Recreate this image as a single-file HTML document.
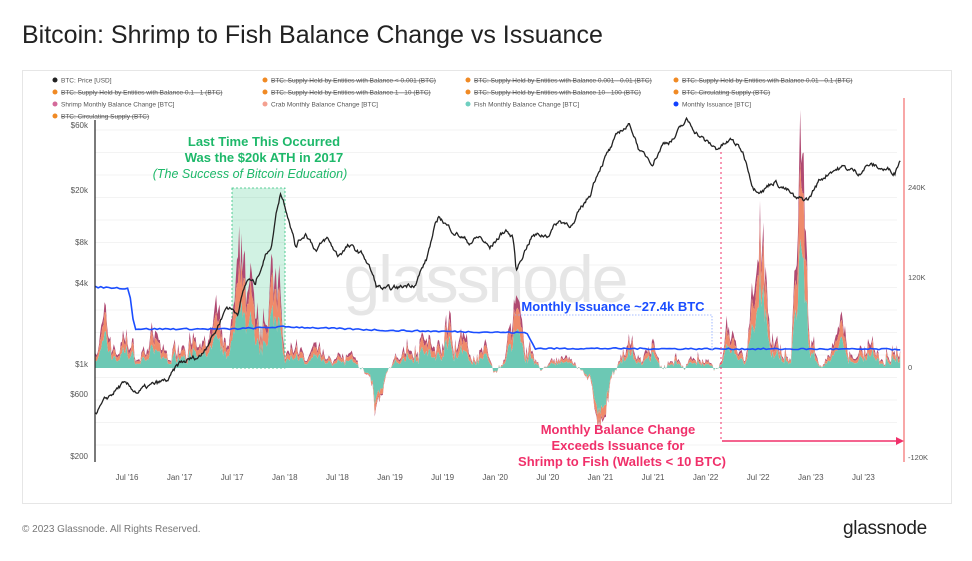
<!DOCTYPE html>
<html><head><meta charset="utf-8">
<style>
html,body{margin:0;padding:0;background:#fff;}
body{width:972px;height:561px;overflow:hidden;position:relative;font-family:"Liberation Sans",sans-serif;}
.t{position:absolute;}
</style></head>
<body>
<div class="t" style="left:22px;top:21px;font-size:25px;color:#222;">Bitcoin: Shrimp to Fish Balance Change vs Issuance</div>
<div style="position:absolute;left:22px;top:70px;width:928px;height:432px;border:1px solid #e6e6e6;"></div>
<div class="t" style="left:22px;top:524px;font-size:10px;color:#777;">© 2023 Glassnode. All Rights Reserved.</div>
<div class="t" style="left:843px;top:518px;font-size:19px;color:#222;letter-spacing:-0.3px;">glassnode</div>
<svg id="s" width="972" height="561" style="position:absolute;left:0;top:0" font-family="Liberation Sans, sans-serif">
</svg>
<script>
const s=document.getElementById('s');let h='';
const X=t=>127+(t-2016.5)*105.2;
const YP=p=>364-(Math.log10(p)-3)*134.4;
const Z=368, YB=k=>Z-k*0.75;
const leg=[[55,80,'#222','BTC: Price [USD]',0],[265,80,'#f08a24','BTC: Supply Held by Entities with Balance < 0.001 (BTC)',1],[468,80,'#f08a24','BTC: Supply Held by Entities with Balance 0.001 - 0.01 (BTC)',1],[676,80,'#f08a24','BTC: Supply Held by Entities with Balance 0.01 - 0.1 (BTC)',1],
[55,92,'#f08a24','BTC: Supply Held by Entities with Balance 0.1 - 1 (BTC)',1],[265,92,'#f08a24','BTC: Supply Held by Entities with Balance 1 - 10 (BTC)',1],[468,92,'#f08a24','BTC: Supply Held by Entities with Balance 10 - 100 (BTC)',1],[676,92,'#f08a24','BTC: Circulating Supply (BTC)',1],
[55,104,'#d46a9a','Shrimp Monthly Balance Change [BTC]',0],[265,104,'#f4a090','Crab Monthly Balance Change [BTC]',0],[468,104,'#6fcfc0','Fish Monthly Balance Change [BTC]',0],[676,104,'#1140ff','Monthly Issuance [BTC]',0],
[55,116,'#f08a24','BTC: Circulating Supply (BTC)',1]];
for(const[x,y,c,t,st] of leg){h+=`<circle cx="${x}" cy="${y}" r="2.5" fill="${c}"/><text x="${x+6}" y="${y+2.5}" font-size="6.5" fill="#555" ${st?'text-decoration="line-through"':''}>${t}</text>`;}
for(let y=130;y<462;y+=22.5)h+=`<line x1="95" x2="897" y1="${y}" y2="${y}" stroke="#f3f3f3"/>`;
h+=`<text x="485" y="302" font-size="66" fill="#e6e6e6" text-anchor="middle" letter-spacing="-2">glassnode</text>`;
h+=`<rect x="232" y="188" width="53" height="180" fill="#2ec27e" fill-opacity="0.22" stroke="#2ec27e" stroke-dasharray="2,2" stroke-width="0.8"/>`;
let seed=7;const R=()=>{seed=(seed*16807)%2147483647;return seed/2147483647;};
function interp(pts,t){for(let i=0;i<pts.length-1;i++){if(t<=pts[i+1][0]){const a=pts[i],b=pts[i+1],f=(t-a[0])/(b[0]-a[0]);return a[1]+(b[1]-a[1])*f;}}return pts[pts.length-1][1];}
const tot=[[2016.2,30],[2016.3,55],[2016.4,20],[2016.5,45],[2016.6,10],[2016.75,40],[2016.9,15],[2017.05,50],[2017.2,20],[2017.35,60],[2017.45,20],[2017.55,90],[2017.62,160],[2017.7,70],[2017.8,120],[2017.85,100],[2017.95,90],[2018.0,10],[2018.1,40],[2018.2,5],[2018.3,25],[2018.45,10],[2018.6,20],[2018.8,-10],[2018.87,-55],[2018.95,-10],[2019.1,20],[2019.25,45],[2019.4,25],[2019.5,40],[2019.58,80],[2019.65,45],[2019.8,15],[2019.9,30],[2020.0,-10],[2020.1,20],[2020.2,70],[2020.3,30],[2020.45,-5],[2020.55,15],[2020.7,10],[2020.85,-5],[2020.95,-40],[2021.02,-65],[2021.1,-20],[2021.2,20],[2021.3,35],[2021.4,10],[2021.5,25],[2021.6,0],[2021.7,20],[2021.8,0],[2021.9,20],[2022.0,10],[2022.1,-5],[2022.15,10],[2022.2,50],[2022.3,25],[2022.38,10],[2022.45,80],[2022.52,175],[2022.6,70],[2022.7,30],[2022.8,15],[2022.87,150],[2022.91,300],[2022.96,100],[2023.0,40],[2023.1,0],[2023.2,20],[2023.3,50],[2023.4,10],[2023.5,20],[2023.55,40],[2023.65,15],[2023.75,35],[2023.85,25]];
const T0=2016.2,T1=2023.85,N=700;
let top1=[],top2=[],top3=[];let nz=0;
for(let i=0;i<=N;i++){const t=T0+(T1-T0)*i/N;nz=nz*0.6+(R()-0.5)*0.9;let b=interp(tot,t);let v=b*(1+nz)+(R()-0.5)*8;
 let fish,crab,shr;
 if(v>0){fish=v*(0.45+0.15*R());crab=v*0.3;shr=v-fish-crab;}else{fish=v*0.75;crab=v*0.2;shr=v*0.05;}
 top1.push([X(t),fish]);top2.push([X(t),fish+crab]);top3.push([X(t),v]);}
function area(arr,base,col){let d='M'+arr[0][0]+','+YB(base?base[0][1]:0);for(const p of arr)d+='L'+p[0].toFixed(1)+','+YB(p[1]).toFixed(1);
 if(base){for(let i=base.length-1;i>=0;i--)d+='L'+base[i][0].toFixed(1)+','+YB(base[i][1]).toFixed(1);}else d+='L'+arr[arr.length-1][0]+','+Z;
 return `<path d="${d}Z" fill="${col}"/>`;}
h+=area(top3,top2,'#b04a72');h+=area(top2,top1,'#ef8a6a');h+=area(top1,null,'#6cc8b4');
let iss=[[2016.2,108],[2016.52,106],[2016.57,52],[2017.5,52],[2018.0,55],[2019.0,50],[2020.3,47],[2020.38,26],[2021.0,26],[2022.0,25.5],[2023.85,25]];
let d='';for(let i=0;i<=300;i++){const t=T0+(T1-T0)*i/300;const v=interp(iss,t)+(R()-0.5)*2;d+=(i?'L':'M')+X(t).toFixed(1)+','+YB(v).toFixed(1);}
h+=`<path d="${d}" fill="none" stroke="#1a4dff" stroke-width="1.6"/>`;
const pr=[[2016.2,420],[2016.45,700],[2016.6,620],[2016.9,760],[2017.0,1000],[2017.2,1150],[2017.35,1800],[2017.45,2700],[2017.55,2400],[2017.65,4300],[2017.72,3900],[2017.8,6000],[2017.88,8000],[2017.96,19000],[2018.03,13000],[2018.1,7500],[2018.2,9500],[2018.3,7000],[2018.4,8500],[2018.5,6400],[2018.6,7500],[2018.75,6400],[2018.87,3800],[2018.97,3500],[2019.1,3700],[2019.25,4100],[2019.35,6000],[2019.47,12500],[2019.55,10500],[2019.75,8000],[2019.85,8800],[2019.95,7200],[2020.1,10000],[2020.17,8500],[2020.2,4800],[2020.35,9000],[2020.5,9200],[2020.6,11500],[2020.75,11000],[2020.9,18000],[2021.0,30000],[2021.1,40000],[2021.2,55000],[2021.28,60000],[2021.38,37000],[2021.5,32000],[2021.6,44000],[2021.7,48000],[2021.82,64000],[2021.9,55000],[2022.0,45000],[2022.1,40000],[2022.25,46000],[2022.35,38000],[2022.45,21000],[2022.55,20000],[2022.65,23000],[2022.78,19500],[2022.86,16500],[2022.98,16700],[2023.08,23000],[2023.2,28000],[2023.3,29000],[2023.45,26500],[2023.55,30500],[2023.7,28000],[2023.8,27000],[2023.85,34000]];
d='';let rw=0;for(let i=0;i<=900;i++){const t=T0+(T1-T0)*i/900;rw=rw*0.8+(R()-0.5)*0.03;const p=interp(pr,t)*Math.pow(10,rw);d+=(i?'L':'M')+X(t).toFixed(1)+','+YP(p).toFixed(1);}
h+=`<path d="${d}" fill="none" stroke="#222" stroke-width="1.3"/>`;
h+=`<line x1="95" x2="95" y1="120" y2="462" stroke="#222" stroke-width="1.2"/><line x1="904" x2="904" y1="98" y2="462" stroke="#f26d6d" stroke-width="1.2"/>`;
for(const[l,y] of [['$60k',125],['$20k',190],['$8k',242],['$4k',283],['$1k',364],['$600',394],['$200',456]])h+=`<text x="88" y="${y+3}" font-size="8" fill="#555" text-anchor="end">${l}</text>`;
for(const[l,y] of [['240K',187],['120K',277],['0',367],['-120K',457]])h+=`<text x="908" y="${y+3}" font-size="7.5" fill="#555">${l}</text>`;
const xl=["Jul '16","Jan '17","Jul '17","Jan '18","Jul '18","Jan '19","Jul '19","Jan '20","Jul '20","Jan '21","Jul '21","Jan '22","Jul '22","Jan '23","Jul '23"];
xl.forEach((l,i)=>h+=`<text x="${X(2016.5+i*0.5)}" y="480" font-size="8" fill="#555" text-anchor="middle">${l}</text>`);
h+=`<text x="264" y="146" font-size="13" font-weight="bold" fill="#1eb86a" text-anchor="middle">Last Time This Occurred</text>`;
h+=`<text x="264" y="162" font-size="13" font-weight="bold" fill="#1eb86a" text-anchor="middle">Was the $20k ATH in 2017</text>`;
h+=`<text x="250" y="178" font-size="12.5" font-style="italic" fill="#1eb86a" text-anchor="middle">(The Success of Bitcoin Education)</text>`;
h+=`<text x="613" y="311" font-size="13" font-weight="bold" fill="#1a4dff" text-anchor="middle">Monthly Issuance ~27.4k BTC</text>`;
h+=`<path d="M515,315H712V350" fill="none" stroke="#8aa8ff" stroke-dasharray="1.5,1.5" stroke-width="0.8"/>`;
h+=`<line x1="721" x2="721" y1="152" y2="440" stroke="#f0306a" stroke-dasharray="2,3" stroke-width="1"/>`;
h+=`<line x1="722" x2="898" y1="441" y2="441" stroke="#f0306a" stroke-width="1.5"/><path d="M896,437L904,441L896,445Z" fill="#f0306a"/>`;
h+=`<text x="618" y="434" font-size="13" font-weight="bold" fill="#f0306a" text-anchor="middle">Monthly Balance Change</text>`;
h+=`<text x="618" y="450" font-size="13" font-weight="bold" fill="#f0306a" text-anchor="middle">Exceeds Issuance for</text>`;
h+=`<text x="622" y="466" font-size="13" font-weight="bold" fill="#f0306a" text-anchor="middle">Shrimp to Fish (Wallets &lt; 10 BTC)</text>`;
s.innerHTML=h;
</script>
</body></html>
